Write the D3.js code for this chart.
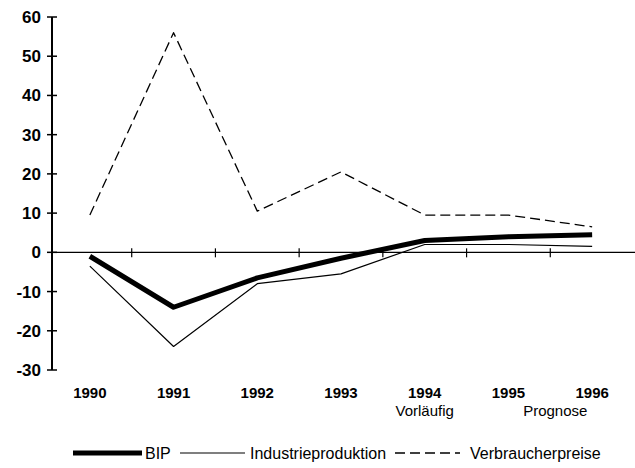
<!DOCTYPE html>
<html>
<head>
<meta charset="utf-8">
<script src="https://cdn.jsdelivr.net/npm/d3@7"></script>
<style>
  body { margin: 0; background: #fff; }
  text { font-family: "Liberation Sans", Arial, sans-serif; fill: #000; }
</style>
</head>
<body>
<div id="chart"></div>
<script>
// data
var years = ["1990", "1991", "1992", "1993", "1994", "1995", "1996"]
var subLabels = {"1994": "Vorläufig"}
var bip = [-1, -14, -6.5, -1.5, 3, 4, 4.5]
var industrie = [-3.5, -24, -8, -5.5, 2, 2, 1.5]
var preise = [9.5, 56, 10.5, 20.5, 9.5, 9.5, 6.5]
var yTicks = [-30, -20, -10, 0, 10, 20, 30, 40, 50, 60]

var series = [
  {name: "BIP", values: bip, width: 5, dash: null},
  {name: "Industrieproduktion", values: industrie, width: 1.2, dash: null},
  {name: "Verbraucherpreise", values: preise, width: 1.3, dash: "10,5"}
]

var W = 635, H = 468

var svg = d3.select("#chart")
  .append("svg")
  .attr("width", W)
  .attr("height", H)

// scales
var x = d3.scaleBand()
  .domain(years)
  .range([48, 634])
  .padding(0)

var y = d3.scaleLinear()
  .domain([-30, 60])
  .range([370, 17])

var axisLeft = 52

// y axis
svg.append("line")
  .attr("x1", axisLeft).attr("x2", axisLeft)
  .attr("y1", y(60)).attr("y2", y(-30))
  .attr("stroke", "#000").attr("stroke-width", 2)

svg.selectAll(".ytick")
  .data(yTicks)
  .enter().append("line")
    .attr("x1", axisLeft - 5).attr("x2", axisLeft + 5)
    .attr("y1", function(d) { return y(d) })
    .attr("y2", function(d) { return y(d) })
    .attr("stroke", "#000").attr("stroke-width", 1.5)

svg.selectAll(".ylab")
  .data(yTicks)
  .enter().append("text")
    .attr("x", 41)
    .attr("y", function(d) { return y(d) + 6 })
    .attr("text-anchor", "end")
    .style("font-size", "17px")
    .style("font-weight", "bold")
    .text(function(d) { return d })

// x axis along zero
svg.append("line")
  .attr("x1", axisLeft).attr("x2", W)
  .attr("y1", y(0)).attr("y2", y(0))
  .attr("stroke", "#000").attr("stroke-width", 1.2)

svg.selectAll(".xtick")
  .data(years.slice(1))
  .enter().append("line")
    .attr("x1", function(d) { return x(d) })
    .attr("x2", function(d) { return x(d) })
    .attr("y1", y(0) - 4).attr("y2", y(0) + 5)
    .attr("stroke", "#000").attr("stroke-width", 1.2)

svg.selectAll(".xlab")
  .data(years)
  .enter().append("text")
    .attr("x", function(d) { return x(d) + x.bandwidth() / 2 })
    .attr("y", 398)
    .attr("text-anchor", "middle")
    .style("font-size", "15px")
    .style("font-weight", "bold")
    .text(function(d) { return d })

svg.append("text")
  .attr("x", x("1994") + x.bandwidth() / 2)
  .attr("y", 416)
  .attr("text-anchor", "middle")
  .style("font-size", "15px")
  .text(subLabels["1994"])

// "Prognose" spans 1995 and 1996
svg.append("text")
  .attr("x", x("1996") + 5)
  .attr("y", 416)
  .attr("text-anchor", "middle")
  .style("font-size", "15px")
  .text("Prognose")

// lines
var line = d3.line()
  .x(function(d, i) { return x(years[i]) + x.bandwidth() / 2 })
  .y(function(d) { return y(d) })

svg.selectAll(".series")
  .data(series)
  .enter().append("path")
    .attr("d", function(d) { return line(d.values) })
    .attr("fill", "none")
    .attr("stroke", "#000")
    .attr("stroke-width", function(d) { return d.width })
    .attr("stroke-dasharray", function(d) { return d.dash })
    .attr("stroke-linejoin", "round")

// legend
var legendX = [73, 180, 395]
var legend = svg.selectAll(".legend")
  .data(series)
  .enter().append("g")
    .attr("transform", function(d, i) { return "translate(" + legendX[i] + ",453)" })

legend.append("line")
  .attr("x1", 0).attr("x2", function(d, i) { return i == 0 ? 69 : 65 })
  .attr("y1", 0).attr("y2", 0)
  .attr("stroke", "#000")
  .attr("stroke-width", function(d) { return d.width })
  .attr("stroke-dasharray", function(d) { return d.dash })

legend.append("text")
  .attr("x", function(d, i) { return i == 0 ? 72 : (i == 1 ? 70 : 75) })
  .attr("y", 6)
  .style("font-size", "16px")
  .text(function(d) { return d.name })
</script>
</body>
</html>
